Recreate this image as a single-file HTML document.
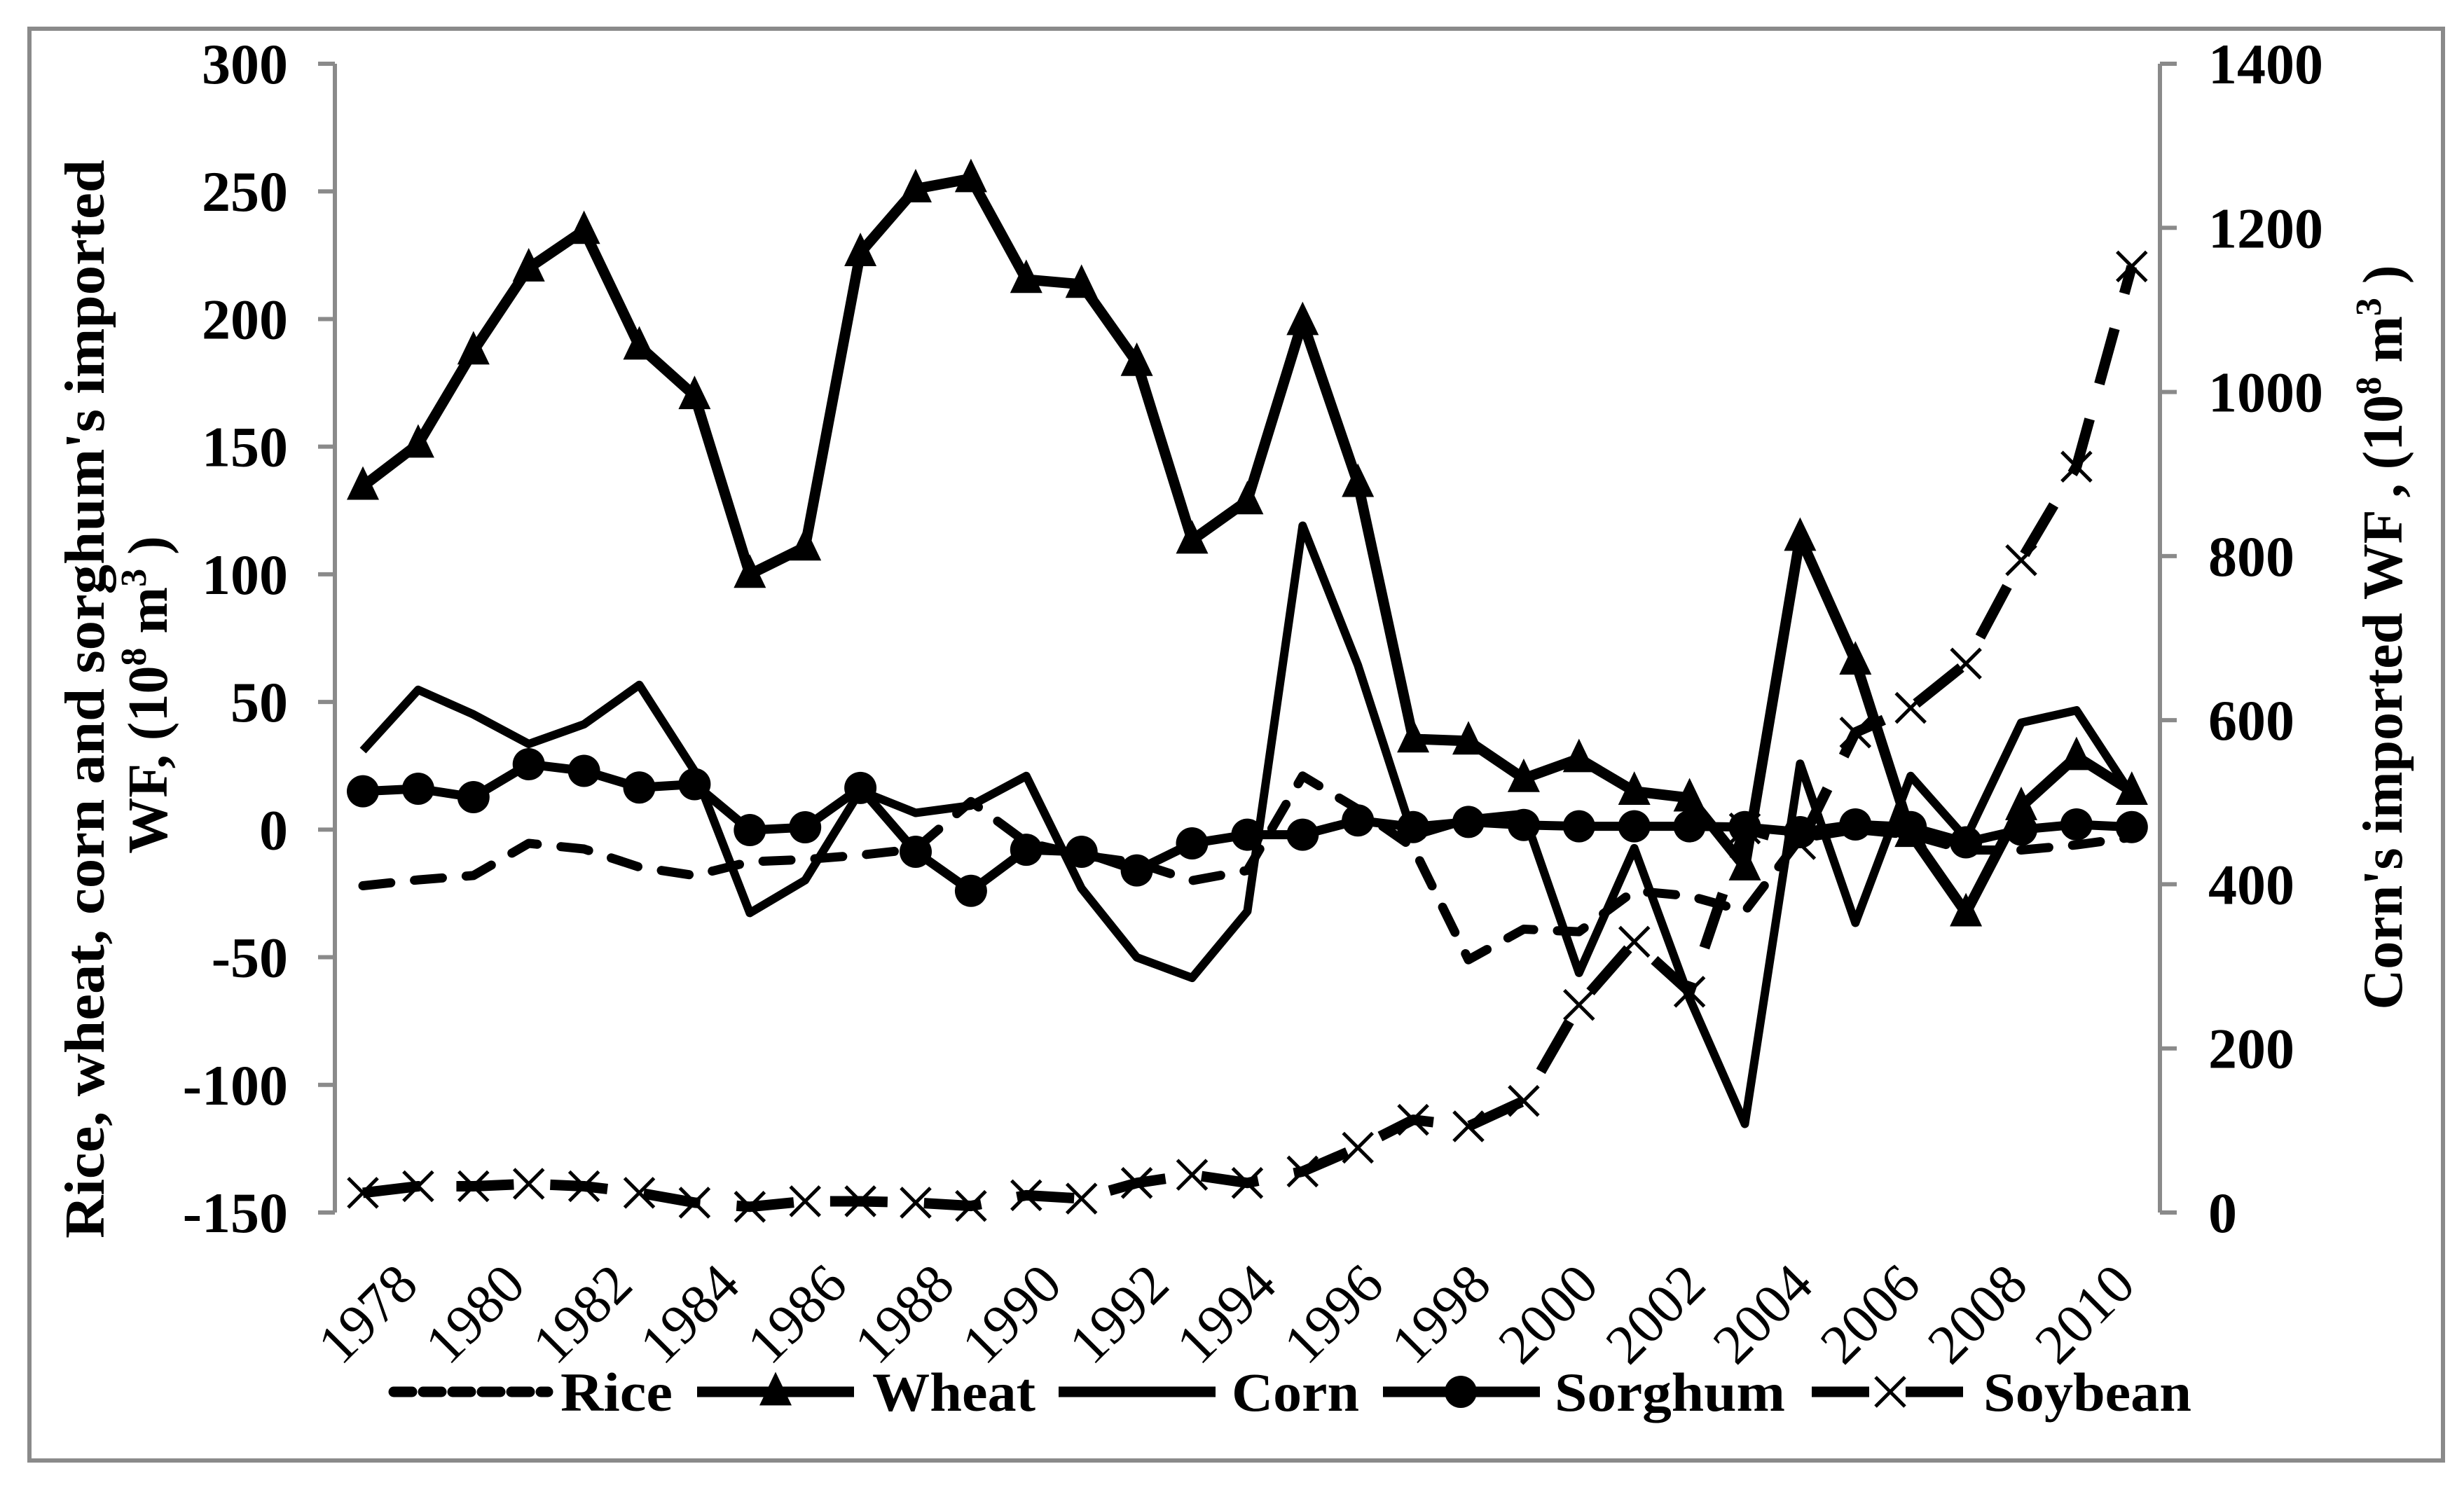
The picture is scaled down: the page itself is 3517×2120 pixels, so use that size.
<!DOCTYPE html>
<html><head><meta charset="utf-8"><title>Imported WF chart</title>
<style>
html,body{margin:0;padding:0;background:#fff;}
svg{display:block;}
text{font-family:"Liberation Serif",serif;fill:#000;}
</style></head>
<body>
<svg id="chart" width="3517" height="2120" viewBox="0 0 3517 2120" xmlns="http://www.w3.org/2000/svg">
<rect x="42" y="41" width="3445" height="2044" fill="#fff" stroke="#8a8a8a" stroke-width="6"/>
<g id="axes"></g>
<g id="series"></g>
<text font-weight="bold" font-size="80" text-anchor="middle" textLength="1540" lengthAdjust="spacingAndGlyphs" transform="translate(148,998) rotate(-90)">Rice, wheat, corn and sorghum's  imported</text>
<text font-weight="bold" font-size="80" text-anchor="middle" transform="translate(238,992) rotate(-90)">WF, (10<tspan font-size="52" dy="-30">8</tspan><tspan dy="30"> m</tspan><tspan font-size="52" dy="-30">3</tspan><tspan dy="30"> )</tspan></text>
<text font-weight="bold" font-size="80" text-anchor="middle" transform="translate(3428,910) rotate(-90)">Corn's imported WF , (10<tspan font-size="52" dy="-30">8</tspan><tspan dy="30"> m</tspan><tspan font-size="52" dy="-30">3</tspan><tspan dy="30"> )</tspan></text>
<g id="legend"></g>
</svg>
<script>
const years = [1978,1979,1980,1981,1982,1983,1984,1985,1986,1987,1988,1989,1990,1991,1992,1993,1994,1995,1996,1997,1998,1999,2000,2001,2002,2003,2004,2005,2006,2007,2008,2009,2010];
const xTickLabels = ["1978","1980","1982","1984","1986","1988","1990","1992","1994","1996","1998","2000","2002","2004","2006","2008","2010"];
const leftTicks = [300,250,200,150,100,50,0,-50,-100,-150];
const rightTicks = [1400,1200,1000,800,600,400,200,0];
const rice = [-22,-19.7,-18,-5.4,-7.6,-14.7,-18,-12.6,-11.7,-10,-7.6,11,-5,-10,-13,-20,-16,21,8,-7,-51,-39,-40,-24,-26,-32,-3.5,0,-2,-8,-8,-6,-3];
const wheat = [134.5,151,187.5,220,234.7,189.4,170,100,110.7,226,251,255,215.5,213.6,183,113.4,128.8,199,135.6,35.5,34.7,20,27.8,15,12.4,-14.6,114.5,66,-1.5,-32.6,9,28.6,15];
const corn = [563,637,607,571,595,643,538,365,405,514,487,496,532,395,311,286,367,837,667,459,479,486,292,444,261,108,547,353,532,456,597,612,509];
const sorghum = [15,16,12.7,25.6,23,16.5,17.8,-0.2,0.9,16.3,-8.7,-24,-7.9,-8.7,-16,-5.4,-2,-2,3.6,1,3,1.8,1.3,1.3,1.3,1,-1,2,1,-5,0,2,1];
const soybean = [24,32,32,35,32,24,12,7,13.7,13.7,12,8,21,17,36,46,36,50,79,113,105,136,253,330,269,468,449,585,615,669,795,909,1153];

const NS = "http://www.w3.org/2000/svg";
const TOP = 91, BOT = 1731, LAX = 478, RAX = 3083, X0 = 518, DX = 78.9;
function xPos(i){ return X0 + i*DX; }
function yLeft(v){ return TOP + (300 - v)/450*(BOT-TOP); }
function yRight(v){ return BOT - v/1400*(BOT-TOP); }
function mk(tag, attrs, parent){
  const e = document.createElementNS(NS, tag);
  for (const k in attrs) e.setAttribute(k, attrs[k]);
  parent.appendChild(e); return e;
}
const axes = document.getElementById('axes');
const series = document.getElementById('series');
const legend = document.getElementById('legend');
const GREY = "#8a8a8a";

let la = mk('line',{x1:LAX,y1:TOP,x2:LAX,y2:BOT,stroke:GREY,'stroke-width':6},axes);


leftTicks.forEach(v=>{
  const y = yLeft(v);
  const t = mk('line',{x1:LAX-24,y1:y,x2:LAX,y2:y,stroke:GREY,'stroke-width':6},axes);
  
  
  const lb = mk('text',{x:411,y:y+28,'text-anchor':'end','font-size':82,'font-weight':'bold'},axes);
  lb.textContent = String(v);
  
  
});
let ra = mk('line',{x1:RAX,y1:TOP,x2:RAX,y2:BOT,stroke:GREY,'stroke-width':6},axes);


rightTicks.forEach(v=>{
  const y = yRight(v);
  const t = mk('line',{x1:RAX,y1:y,x2:RAX+24,y2:y,stroke:GREY,'stroke-width':6},axes);
  
  
  const lb = mk('text',{x:3152,y:y+28,'text-anchor':'start','font-size':82,'font-weight':'bold'},axes);
  lb.textContent = String(v);
  
  
});
xTickLabels.forEach((s,k)=>{
  const ex = 616 + k*(3067-616)/(xTickLabels.length-1);
  const ey = 1786;
  const lb = mk('text',{x:0,y:0,'text-anchor':'end','font-size':80,transform:`translate(${ex-16},${ey+52}) rotate(-45)`},axes);
  lb.textContent = s;
  
  
});

function linePath(vals, yf){
  return vals.map((v,i)=>(i?'L':'M')+xPos(i).toFixed(1)+' '+yf(v).toFixed(1)).join(' ');
}
function tri(cx,cy,s,parent){
  return mk('polygon',{points:`${cx},${cy-s*0.62} ${cx-s/2},${cy+s*0.42} ${cx+s/2},${cy+s*0.42}`,fill:'#000'},parent);
}
function xmark(cx,cy,s,parent){
  return mk('path',{d:`M${cx-s} ${cy-s} L${cx+s} ${cy+s} M${cx-s} ${cy+s} L${cx+s} ${cy-s}`,stroke:'#000','stroke-width':5,fill:'none'},parent);
}

const pSoy = mk('path',{d:linePath(soybean,yRight),fill:'none',stroke:'#000','stroke-width':15,'stroke-dasharray':'82 52','stroke-linejoin':'round'},series);


soybean.forEach((v,i)=>{
  const m = xmark(xPos(i),yRight(v),21,series);
  
  
});
const pRice = mk('path',{d:linePath(rice,yLeft),fill:'none',stroke:'#000','stroke-width':13,'stroke-dasharray':'40 34','stroke-linecap':'round','stroke-linejoin':'round'},series);


const pCorn = mk('path',{d:linePath(corn,yRight),fill:'none',stroke:'#000','stroke-width':12,'stroke-linejoin':'round'},series);


const pSor = mk('path',{d:linePath(sorghum,yLeft),fill:'none',stroke:'#000','stroke-width':13,'stroke-linejoin':'round'},series);


sorghum.forEach((v,i)=>{
  const c = mk('circle',{cx:xPos(i),cy:yLeft(v),r:23,fill:'#000'},series);
  
  
});
const pW = mk('path',{d:linePath(wheat,yLeft),fill:'none',stroke:'#000','stroke-width':15,'stroke-linejoin':'round'},series);


wheat.forEach((v,i)=>{
  const t = tri(xPos(i),yLeft(v),46,series);
  
  
});

const LY = 1987;
function legText(x,s,name,w){
  const t = mk('text',{x:x,y:LY+27,'font-size':78,'font-weight':'bold',textLength:w,lengthAdjust:'spacingAndGlyphs'},legend);
  t.textContent = s;
  
  
}
let l1 = mk('line',{x1:562,y1:LY,x2:782,y2:LY,stroke:'#000','stroke-width':15,'stroke-dasharray':'26 16','stroke-linecap':'round'},legend);


legText(800,'Rice','legend-rice-label',160);
let l2 = mk('line',{x1:995,y1:LY,x2:1219,y2:LY,stroke:'#000','stroke-width':15},legend);


let lt = tri(1107,LY,46,legend);


legText(1245,'Wheat','legend-wheat-label',233);
let l3 = mk('line',{x1:1511,y1:LY,x2:1735,y2:LY,stroke:'#000','stroke-width':15},legend);


legText(1758,'Corn','legend-corn-label',182);
let l4 = mk('line',{x1:1974,y1:LY,x2:2198,y2:LY,stroke:'#000','stroke-width':15},legend);


let lc = mk('circle',{cx:2085,cy:LY,r:23,fill:'#000'},legend);


legText(2219,'Sorghum','legend-sorghum-label',329);
let l5 = mk('line',{x1:2586,y1:LY,x2:2810,y2:LY,stroke:'#000','stroke-width':15,'stroke-dasharray':'82 52'},legend);


let lx = xmark(2698,LY,21,legend);


legText(2831,'Soybean','legend-soybean-label',297);
</script>
</body></html>
